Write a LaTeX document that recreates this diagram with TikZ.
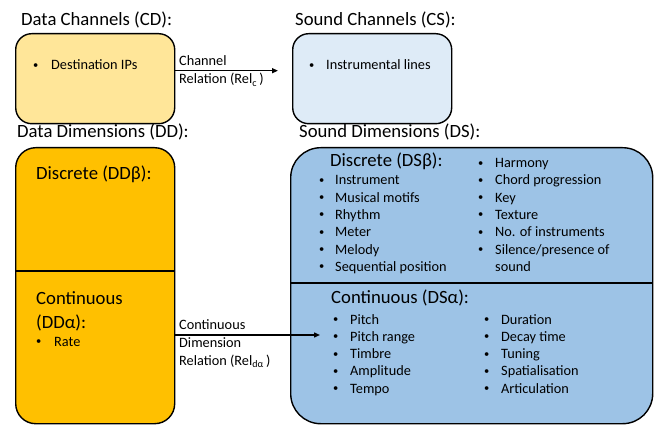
\documentclass[tikz,border=0pt]{standalone}
\usepackage{fontspec}
\setmainfont{Carlito}
\usetikzlibrary{arrows.meta}

\definecolor{cdfill}{HTML}{FFE699}
\definecolor{csfill}{HTML}{DEEBF7}
\definecolor{ddfill}{HTML}{FFC000}
\definecolor{dsfill}{HTML}{9DC3E6}

\tikzset{
  head/.style={anchor=base west, inner sep=0pt, font=\fontsize{18.7}{22}\selectfont},
  item/.style={anchor=base west, inner sep=0pt, font=\fontsize{14.3}{17}\selectfont},
  dot/.style={anchor=base west, inner sep=0pt, yshift=1.6pt, font=\fontsize{10.5}{12}\selectfont},
  box/.style={draw, line width=1.4pt, anchor=north west, inner sep=0pt},
  rel/.style={line width=1.4pt, -{Triangle[length=6pt, width=5pt]}},
}

\begin{document}
\begin{tikzpicture}[x=1pt, y=-1pt]%
  \useasboundingbox (0,0) rectangle (665,425);
  % channels
  \node[head] (cdhead) at (21,26) {Data Channels (CD):};
  \node[head] (cshead) at (295,26) {Sound Channels (CS):};
  \node[box, fill=cdfill, rounded corners=16pt, minimum width=159pt, minimum height=90pt] (cd) at (15,33) {};
  \node[box, fill=csfill, rounded corners=16pt, minimum width=159pt, minimum height=90pt] (cs) at (292,33) {};
  \node[dot] (cdb) at (33,70) {\textbullet};
  \node[item] (cdt) at (51,70) {Destination IPs};
  \node[dot] (csb) at (309,70) {\textbullet};
  \node[item] (cst) at (326,70) {Instrumental lines};
  \draw[rel, shorten >=14pt] ([yshift=8pt]cd.east) -- ([yshift=8pt]cs.west);
  \node[item] (relc1) at (179,66) {Channel};
  \node[item] (relc2) at (179,84) {Relation (Rel\textsubscript{c}\,)};

  % dimensions
  \node[head] (ddhead) at (17,138) {Data Dimensions (DD):};
  \node[head] (dshead) at (299,138) {Sound Dimensions (DS):};
  \node[box, fill=ddfill, rounded corners=20pt, minimum width=159pt, minimum height=276pt] (dd) at (15,147) {};
  \node[box, fill=dsfill, rounded corners=30pt, minimum width=362pt, minimum height=276pt] (ds) at (290,147) {};
  \draw[line width=1.4pt] (dd.west |- 0,271) -- (dd.east |- 0,271);
  \draw[line width=1.4pt] (ds.west |- 0,283) -- (ds.east |- 0,283);

  \node[head] (ddb) at (36,180) {Discrete (DDβ):};
  \node[head] (dda1) at (36,305) {Continuous};
  \node[head] (dda2) at (36,328) {(DDα):};
  \node[dot] (ddab) at (36,346) {\textbullet};
  \node[item] (ddat) at (54,346) {Rate};

  \node[head] (dsb) at (330,167) {Discrete (DSβ):};
  \foreach \t [count=\i] in {Instrument, Musical motifs, Rhythm, Meter, Melody, Sequential position} {
    \node[dot] (dsbl\i) at (319,{185+17.3*(\i-1)}) {\textbullet};
    \node[item] (dsbt\i) at (335,{185+17.3*(\i-1)}) {\t};
  }
  \foreach \t [count=\i] in {Harmony, Chord progression, Key, Texture, No. of instruments, Silence/presence of} {
    \node[dot] (dsbr\i) at (478,{167.7+17.3*(\i-1)}) {\textbullet};
    \node[item] (dsbs\i) at (495,{167.7+17.3*(\i-1)}) {\t};
  }
  \node[item] (dsbs7) at (495,271.5) {sound};

  \node[head] (dsa) at (331,304) {Continuous (DSα):};
  \foreach \t [count=\i] in {Pitch, Pitch range, Timbre, Amplitude, Tempo} {
    \node[dot] (dsal\i) at (333,{324+17.3*(\i-1)}) {\textbullet};
    \node[item] (dsat\i) at (350,{324+17.3*(\i-1)}) {\t};
  }
  \foreach \t [count=\i] in {Duration, Decay time, Tuning, Spatialisation, Articulation} {
    \node[dot] (dsar\i) at (484,{324+17.3*(\i-1)}) {\textbullet};
    \node[item] (dsas\i) at (501,{324+17.3*(\i-1)}) {\t};
  }

  % continuous relation
  \coordinate (dsin) at (320,335);
  \draw[rel] (dd.east |- dsin) -- (dsin);
  \node[item] (reld1) at (179,330) {Continuous};
  \node[item] (reld2) at (179,347.5) {Dimension};
  \node[item] (reld3) at (179,365) {Relation (Rel\textsubscript{dα}\,)};
\end{tikzpicture}
\end{document}
